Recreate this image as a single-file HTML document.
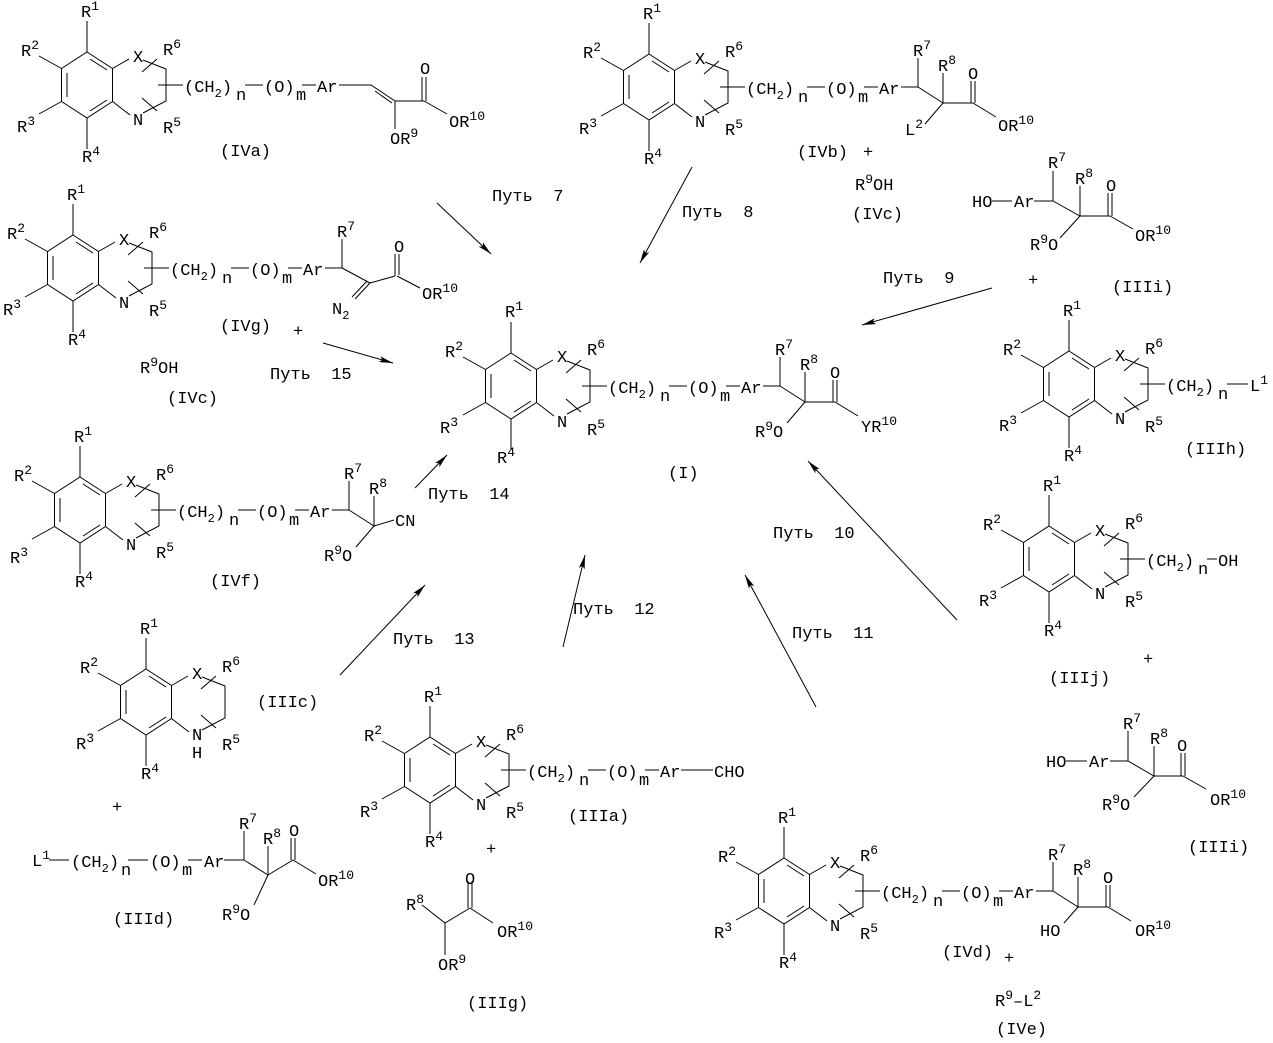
<!DOCTYPE html>
<html><head><meta charset="utf-8">
<style>
html,body{margin:0;padding:0;background:#fff;}
svg{display:block;}
text{font-family:"Liberation Mono","DejaVu Sans Mono",monospace;font-size:17px;fill:#000;white-space:pre;}
.l{fill:none;stroke:#000;stroke-width:1;}
</style></head>
<body>
<svg width="1273" height="1043" viewBox="0 0 1273 1043" xmlns="http://www.w3.org/2000/svg">
<defs>
<g id="core" class="l">
<path class="l" d="M0,-33 L25.5,-16.5 L25.5,16.5 L0,33 L-25.5,16.5 L-25.5,-16.5 Z"/>
<path class="l" d="M3,-26 L20,-15 M-20,-12 L-20,12 M3,26 L20,15"/>
<path class="l" d="M0,-33 V-64 M-25.5,-16.5 L-48,-29 M-25.5,16.5 L-48,29 M0,33 V64"/>
<path class="l" d="M25.5,-16.5 L42,-26 M56,-25 L79,-16 V16 L56,28 M43,30 L25.5,16.5"/>
<path class="l" d="M55,-13 L70,-26 M55,13 L70,26"/>
</g>
<marker id="a" viewBox="0 0 14 6" refX="14" refY="3" markerWidth="14" markerHeight="6" orient="auto" markerUnits="userSpaceOnUse"><path d="M0,0 L14,3 L0,6 L3,3 Z" fill="#000"/></marker>
</defs>

<!-- ===== IVa ===== -->
<g transform="translate(87,85)">
<use href="#core"/>
<text x="-6" y="-68">R<tspan dy="-7" font-size="13">1</tspan></text>
<text x="-66" y="-29">R<tspan dy="-7" font-size="13">2</tspan></text>
<text x="-70" y="47">R<tspan dy="-7" font-size="13">3</tspan></text>
<text x="-5" y="77">R<tspan dy="-7" font-size="13">4</tspan></text>
<text x="46" y="-23">X</text><text x="46" y="40">N</text>
<text x="76" y="-30">R<tspan dy="-7" font-size="13">6</tspan></text>
<text x="76" y="48">R<tspan dy="-7" font-size="13">5</tspan></text>
<path class="l" d="M71,0H96M158,0H176M215,0H229"/>
<text x="97" y="7">(CH<tspan dy="5" font-size="12">2</tspan><tspan dy="-5">)</tspan></text>
<text x="149" y="15" font-size="11">n</text>
<text x="177" y="7">(O)</text>
<text x="209" y="15" font-size="11">m</text>
<text x="230" y="7">Ar</text>
<path class="l" d="M252,0 H284 L308,16 M288,6 L305,18 M308,16 H337 M335,16 V-8 M339,16 V-8 M337,16 L360,29 M308,16 V44"/>
<text x="333" y="-11">O</text>
<text x="362" y="42">OR<tspan dy="-7" font-size="13">10</tspan></text>
<text x="303" y="59">OR<tspan dy="-7" font-size="13">9</tspan></text>
<text x="133" y="71">(IVa)</text>
</g>

<!-- ===== IVb ===== -->
<g transform="translate(649,87)">
<use href="#core"/>
<text x="-6" y="-68">R<tspan dy="-7" font-size="13">1</tspan></text>
<text x="-66" y="-29">R<tspan dy="-7" font-size="13">2</tspan></text>
<text x="-70" y="47">R<tspan dy="-7" font-size="13">3</tspan></text>
<text x="-5" y="77">R<tspan dy="-7" font-size="13">4</tspan></text>
<text x="46" y="-23">X</text><text x="46" y="40">N</text>
<text x="76" y="-30">R<tspan dy="-7" font-size="13">6</tspan></text>
<text x="76" y="48">R<tspan dy="-7" font-size="13">5</tspan></text>
<path class="l" d="M71,0H96M158,0H176M215,0H229"/>
<text x="97" y="7">(CH<tspan dy="5" font-size="12">2</tspan><tspan dy="-5">)</tspan></text>
<text x="149" y="15" font-size="11">n</text>
<text x="177" y="7">(O)</text>
<text x="209" y="15" font-size="11">m</text>
<text x="230" y="7">Ar</text>
<path class="l" d="M252,0 H269 V-29 M269,0 L294,16 V-14 M294,16 H324 M322,16 V-6 M326,16 V-6 M324,16 L347,30 M294,16 L276,37"/>
<text x="264" y="-31">R<tspan dy="-7" font-size="13">7</tspan></text>
<text x="289" y="-16">R<tspan dy="-7" font-size="13">8</tspan></text>
<text x="319" y="-8">O</text>
<text x="349" y="44">OR<tspan dy="-7" font-size="13">10</tspan></text>
<text x="256" y="48">L<tspan dy="-7" font-size="13">2</tspan></text>
<text x="148" y="70">(IVb)</text>
<text x="214" y="70">+</text>
</g>
<text x="855" y="190">R<tspan dy="-7" font-size="13">9</tspan><tspan dy="7">OH</tspan></text>
<text x="852" y="219">(IVc)</text>

<!-- ===== IVg ===== -->
<g transform="translate(73,268)">
<use href="#core"/>
<text x="-6" y="-68">R<tspan dy="-7" font-size="13">1</tspan></text>
<text x="-66" y="-29">R<tspan dy="-7" font-size="13">2</tspan></text>
<text x="-70" y="47">R<tspan dy="-7" font-size="13">3</tspan></text>
<text x="-5" y="77">R<tspan dy="-7" font-size="13">4</tspan></text>
<text x="46" y="-23">X</text><text x="46" y="40">N</text>
<text x="76" y="-30">R<tspan dy="-7" font-size="13">6</tspan></text>
<text x="76" y="48">R<tspan dy="-7" font-size="13">5</tspan></text>
<path class="l" d="M71,0H96M158,0H176M215,0H229"/>
<text x="97" y="7">(CH<tspan dy="5" font-size="12">2</tspan><tspan dy="-5">)</tspan></text>
<text x="149" y="15" font-size="11">n</text>
<text x="177" y="7">(O)</text>
<text x="209" y="15" font-size="11">m</text>
<text x="230" y="7">Ar</text>
<path class="l" d="M252,0 H269 V-29 M269,0 L297,15 M297,15 L322,8 M322,8 V-14 M326,7 V-14 M324,8 L347,20 M297,15 L282,31 M294,13 L279,29"/>
<text x="264" y="-31">R<tspan dy="-7" font-size="13">7</tspan></text>
<text x="321" y="-16">O</text>
<text x="349" y="31">OR<tspan dy="-7" font-size="13">10</tspan></text>
<text x="259" y="46">N<tspan dy="5" font-size="12">2</tspan></text>
<text x="147" y="63">(IVg)</text>
<text x="220" y="68">+</text>
</g>
<text x="140" y="373">R<tspan dy="-7" font-size="13">9</tspan><tspan dy="7">OH</tspan></text>
<text x="167" y="403">(IVc)</text>

<!-- ===== I ===== -->
<g transform="translate(511,386)">
<use href="#core"/>
<text x="-6" y="-69">R<tspan dy="-7" font-size="13">1</tspan></text>
<text x="-66" y="-29">R<tspan dy="-7" font-size="13">2</tspan></text>
<text x="-71" y="47">R<tspan dy="-7" font-size="13">3</tspan></text>
<text x="-14" y="77">R<tspan dy="-7" font-size="13">4</tspan></text>
<text x="46" y="-24">X</text><text x="46" y="41">N</text>
<text x="76" y="-31">R<tspan dy="-7" font-size="13">6</tspan></text>
<text x="76" y="49">R<tspan dy="-7" font-size="13">5</tspan></text>
<path class="l" d="M71,0H96M158,0H176M215,0H229"/>
<text x="97" y="7">(CH<tspan dy="5" font-size="12">2</tspan><tspan dy="-5">)</tspan></text>
<text x="149" y="15" font-size="11">n</text>
<text x="177" y="7">(O)</text>
<text x="209" y="15" font-size="11">m</text>
<text x="230" y="7">Ar</text>
<path class="l" d="M252,0 H269 V-29 M269,0 L294,16 V-14 M294,16 H324 M322,16 V-6 M326,16 V-6 M324,16 L347,30 M294,16 L276,37"/>
<text x="264" y="-31">R<tspan dy="-7" font-size="13">7</tspan></text>
<text x="289" y="-16">R<tspan dy="-7" font-size="13">8</tspan></text>
<text x="319" y="-8">O</text>
<text x="350" y="46">YR<tspan dy="-7" font-size="13">10</tspan></text>
<text x="244" y="51">R<tspan dy="-7" font-size="13">9</tspan><tspan dy="7">O</tspan></text>
<text x="157" y="92">(I)</text>
</g>

<!-- ===== IIIi top ===== -->
<text x="972" y="207">HO</text>
<text x="1014" y="207">Ar</text>
<path class="l" d="M992,201 H1012 M1034,201 H1053 V171 M1053,201 L1080,216 V186 M1080,216 H1110 M1108,216 V193 M1112,216 V193 M1110,216 L1133,229 M1080,216 L1060,238"/>
<text x="1048" y="168">R<tspan dy="-7" font-size="13">7</tspan></text>
<text x="1075" y="184">R<tspan dy="-7" font-size="13">8</tspan></text>
<text x="1106" y="191">O</text>
<text x="1135" y="241">OR<tspan dy="-7" font-size="13">10</tspan></text>
<text x="1030" y="250">R<tspan dy="-7" font-size="13">9</tspan><tspan dy="7">O</tspan></text>
<text x="1028" y="285">+</text>
<text x="1112" y="292">(IIIi)</text>

<!-- ===== IIIh ===== -->
<g transform="translate(1069,384)">
<use href="#core"/>
<text x="-6" y="-68">R<tspan dy="-7" font-size="13">1</tspan></text>
<text x="-66" y="-29">R<tspan dy="-7" font-size="13">2</tspan></text>
<text x="-70" y="47">R<tspan dy="-7" font-size="13">3</tspan></text>
<text x="-5" y="77">R<tspan dy="-7" font-size="13">4</tspan></text>
<text x="46" y="-23">X</text><text x="46" y="40">N</text>
<text x="76" y="-30">R<tspan dy="-7" font-size="13">6</tspan></text>
<text x="76" y="48">R<tspan dy="-7" font-size="13">5</tspan></text>
<path class="l" d="M71,0H96M158,0H179"/>
<text x="97" y="7">(CH<tspan dy="5" font-size="12">2</tspan><tspan dy="-5">)</tspan></text>
<text x="149" y="15" font-size="11">n</text>
<text x="181" y="7">L<tspan dy="-7" font-size="13">1</tspan></text>
<text x="116" y="70">(IIIh)</text>
</g>

<!-- ===== IVf ===== -->
<g transform="translate(80,510)">
<use href="#core"/>
<text x="-6" y="-68">R<tspan dy="-7" font-size="13">1</tspan></text>
<text x="-66" y="-29">R<tspan dy="-7" font-size="13">2</tspan></text>
<text x="-70" y="53">R<tspan dy="-7" font-size="13">3</tspan></text>
<text x="-5" y="77">R<tspan dy="-7" font-size="13">4</tspan></text>
<text x="46" y="-23">X</text><text x="46" y="40">N</text>
<text x="76" y="-30">R<tspan dy="-7" font-size="13">6</tspan></text>
<text x="76" y="48">R<tspan dy="-7" font-size="13">5</tspan></text>
<path class="l" d="M71,0H96M158,0H176M215,0H229"/>
<text x="97" y="7">(CH<tspan dy="5" font-size="12">2</tspan><tspan dy="-5">)</tspan></text>
<text x="149" y="15" font-size="11">n</text>
<text x="177" y="7">(O)</text>
<text x="209" y="15" font-size="11">m</text>
<text x="230" y="7">Ar</text>
<path class="l" d="M252,0 H269 V-29 M269,0 L294,16 V-14 M294,16 L314,10 M294,16 L276,37"/>
<text x="264" y="-31">R<tspan dy="-7" font-size="13">7</tspan></text>
<text x="289" y="-16">R<tspan dy="-7" font-size="13">8</tspan></text>
<text x="315" y="16">CN</text>
<text x="244" y="51">R<tspan dy="-7" font-size="13">9</tspan><tspan dy="7">O</tspan></text>
<text x="130" y="76">(IVf)</text>
</g>

<!-- ===== IIIj ===== -->
<g transform="translate(1049,559)">
<use href="#core"/>
<text x="-6" y="-68">R<tspan dy="-7" font-size="13">1</tspan></text>
<text x="-66" y="-29">R<tspan dy="-7" font-size="13">2</tspan></text>
<text x="-70" y="47">R<tspan dy="-7" font-size="13">3</tspan></text>
<text x="-5" y="77">R<tspan dy="-7" font-size="13">4</tspan></text>
<text x="46" y="-23">X</text><text x="46" y="40">N</text>
<text x="76" y="-30">R<tspan dy="-7" font-size="13">6</tspan></text>
<text x="76" y="48">R<tspan dy="-7" font-size="13">5</tspan></text>
<path class="l" d="M71,0H96M158,0H168"/>
<text x="97" y="7">(CH<tspan dy="5" font-size="12">2</tspan><tspan dy="-5">)</tspan></text>
<text x="149" y="15" font-size="11">n</text>
<text x="169" y="7">OH</text>
<text x="0" y="124">(IIIj)</text>
<text x="94" y="105">+</text>
</g>

<!-- ===== IIIi bottom ===== -->
<text x="1046" y="767">HO</text>
<text x="1089" y="767">Ar</text>
<path class="l" d="M1066,761 H1087 M1110,761 H1128 V731 M1128,761 L1154,776 V746 M1154,776 H1183 M1181,776 V753 M1185,776 V753 M1183,776 L1206,789 M1154,776 L1134,797"/>
<text x="1123" y="729">R<tspan dy="-7" font-size="13">7</tspan></text>
<text x="1150" y="744">R<tspan dy="-7" font-size="13">8</tspan></text>
<text x="1177" y="751">O</text>
<text x="1210" y="805">OR<tspan dy="-7" font-size="13">10</tspan></text>
<text x="1102" y="810">R<tspan dy="-7" font-size="13">9</tspan><tspan dy="7">O</tspan></text>
<text x="1188" y="852">(IIIi)</text>

<!-- ===== IIIc ===== -->
<g transform="translate(146,702)">
<use href="#core"/>
<text x="-6" y="-68">R<tspan dy="-7" font-size="13">1</tspan></text>
<text x="-66" y="-29">R<tspan dy="-7" font-size="13">2</tspan></text>
<text x="-70" y="47">R<tspan dy="-7" font-size="13">3</tspan></text>
<text x="-5" y="77">R<tspan dy="-7" font-size="13">4</tspan></text>
<text x="46" y="-23">X</text><text x="46" y="38">N</text><text x="46" y="56">H</text>
<text x="76" y="-30">R<tspan dy="-7" font-size="13">6</tspan></text>
<text x="76" y="48">R<tspan dy="-7" font-size="13">5</tspan></text>
<text x="111" y="5">(IIIc)</text>
<text x="-34" y="110">+</text>
</g>

<!-- ===== IIId ===== -->
<text x="32" y="866">L<tspan dy="-7" font-size="13">1</tspan></text>
<path class="l" d="M49,860 H69 M128,860 H148 M188,860 H202 M224,860 H244 V831 M244,860 L268,875 V846 M268,875 L293,860 M291,860 V838 M295,860 V838 M293,860 L316,874 M268,875 L254,905"/>
<text x="71" y="867">(CH<tspan dy="5" font-size="12">2</tspan><tspan dy="-5">)</tspan></text>
<text x="121" y="875" font-size="11">n</text>
<text x="150" y="867">(O)</text>
<text x="182" y="875" font-size="11">m</text>
<text x="204" y="867">Ar</text>
<text x="239" y="829">R<tspan dy="-7" font-size="13">7</tspan></text>
<text x="263" y="844">R<tspan dy="-7" font-size="13">8</tspan></text>
<text x="289" y="836">O</text>
<text x="318" y="886">OR<tspan dy="-7" font-size="13">10</tspan></text>
<text x="222" y="920">R<tspan dy="-7" font-size="13">9</tspan><tspan dy="7">O</tspan></text>
<text x="113" y="924">(IIId)</text>

<!-- ===== IIIa ===== -->
<g transform="translate(430,770)">
<use href="#core"/>
<text x="-6" y="-68">R<tspan dy="-7" font-size="13">1</tspan></text>
<text x="-66" y="-29">R<tspan dy="-7" font-size="13">2</tspan></text>
<text x="-70" y="47">R<tspan dy="-7" font-size="13">3</tspan></text>
<text x="-5" y="77">R<tspan dy="-7" font-size="13">4</tspan></text>
<text x="46" y="-23">X</text><text x="46" y="40">N</text>
<text x="76" y="-30">R<tspan dy="-7" font-size="13">6</tspan></text>
<text x="76" y="48">R<tspan dy="-7" font-size="13">5</tspan></text>
<path class="l" d="M71,0H96M158,0H176M215,0H229M251,0H283"/>
<text x="97" y="7">(CH<tspan dy="5" font-size="12">2</tspan><tspan dy="-5">)</tspan></text>
<text x="149" y="15" font-size="11">n</text>
<text x="177" y="7">(O)</text>
<text x="209" y="15" font-size="11">m</text>
<text x="230" y="7">Ar</text>
<text x="284" y="7">CHO</text>
<text x="138" y="51">(IIIa)</text>
<text x="56" y="84">+</text>
</g>

<!-- ===== IIIg ===== -->
<text x="406" y="910">R<tspan dy="-7" font-size="13">8</tspan></text>
<path class="l" d="M422,905 L445,923 L470,908 M468,908 V881 M472,908 V881 M470,908 L493,923 M445,923 V955"/>
<text x="465" y="884">O</text>
<text x="497" y="937">OR<tspan dy="-7" font-size="13">10</tspan></text>
<text x="438" y="970">OR<tspan dy="-7" font-size="13">9</tspan></text>
<text x="467" y="1008">(IIIg)</text>

<!-- ===== IVd ===== -->
<g transform="translate(784,891)">
<use href="#core"/>
<text x="-6" y="-68">R<tspan dy="-7" font-size="13">1</tspan></text>
<text x="-66" y="-29">R<tspan dy="-7" font-size="13">2</tspan></text>
<text x="-70" y="47">R<tspan dy="-7" font-size="13">3</tspan></text>
<text x="-5" y="77">R<tspan dy="-7" font-size="13">4</tspan></text>
<text x="46" y="-23">X</text><text x="46" y="40">N</text>
<text x="76" y="-30">R<tspan dy="-7" font-size="13">6</tspan></text>
<text x="76" y="48">R<tspan dy="-7" font-size="13">5</tspan></text>
<path class="l" d="M71,0H96M158,0H176M215,0H229"/>
<text x="97" y="7">(CH<tspan dy="5" font-size="12">2</tspan><tspan dy="-5">)</tspan></text>
<text x="149" y="15" font-size="11">n</text>
<text x="177" y="7">(O)</text>
<text x="209" y="15" font-size="11">m</text>
<text x="230" y="7">Ar</text>
<path class="l" d="M252,0 H269 V-29 M269,0 L294,16 V-14 M294,16 H324 M322,16 V-6 M326,16 V-6 M324,16 L347,30 M294,16 L280,32"/>
<text x="264" y="-31">R<tspan dy="-7" font-size="13">7</tspan></text>
<text x="289" y="-16">R<tspan dy="-7" font-size="13">8</tspan></text>
<text x="319" y="-8">O</text>
<text x="351" y="45">OR<tspan dy="-7" font-size="13">10</tspan></text>
<text x="256" y="45">HO</text>
<text x="158" y="66">(IVd)</text>
<text x="220" y="72">+</text>
</g>
<text x="995" y="1006">R<tspan dy="-7" font-size="13">9</tspan><tspan dy="7">–L</tspan><tspan dy="-7" font-size="13">2</tspan></text>
<text x="996" y="1034">(IVe)</text>

<!-- ===== Arrows & route labels ===== -->
<g class="l">
<line x1="437" y1="203" x2="491" y2="254" marker-end="url(#a)"/>
<line x1="692" y1="167" x2="640" y2="263" marker-end="url(#a)"/>
<line x1="992" y1="288" x2="862" y2="325" marker-end="url(#a)"/>
<line x1="323" y1="343" x2="393" y2="363" marker-end="url(#a)"/>
<line x1="415" y1="488" x2="447" y2="455" marker-end="url(#a)"/>
<line x1="340" y1="675" x2="425" y2="585" marker-end="url(#a)"/>
<line x1="563" y1="647" x2="585" y2="555" marker-end="url(#a)"/>
<line x1="816" y1="707" x2="745" y2="575" marker-end="url(#a)"/>
<line x1="957" y1="620" x2="808" y2="461" marker-end="url(#a)"/>
</g>
<text x="492" y="201">Путь  7</text>
<text x="682" y="217">Путь  8</text>
<text x="883" y="283">Путь  9</text>
<text x="270" y="379">Путь  15</text>
<text x="428" y="499">Путь  14</text>
<text x="393" y="644">Путь  13</text>
<text x="573" y="614">Путь  12</text>
<text x="792" y="638">Путь  11</text>
<text x="773" y="538">Путь  10</text>
</svg>
</body></html>
